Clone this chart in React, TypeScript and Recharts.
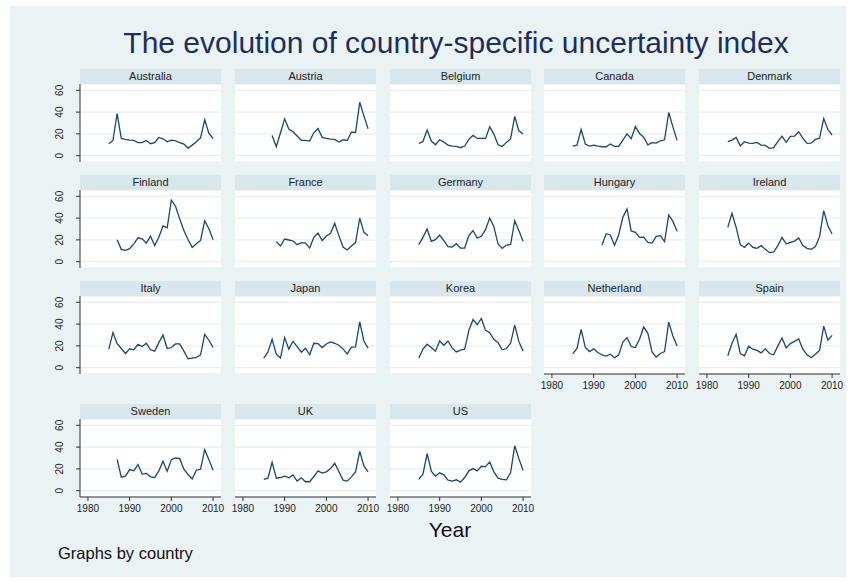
import React from 'react';
import { LineChart, Line, XAxis, YAxis, CartesianGrid } from 'recharts';

// uncertainty index by country, one value per year from the start year on
const countries = [
  'Australia', 'Austria', 'Belgium', 'Canada', 'Denmark',
  'Finland', 'France', 'Germany', 'Hungary', 'Ireland',
  'Italy', 'Japan', 'Korea', 'Netherland', 'Spain',
  'Sweden', 'UK', 'US',
];
const startYears = [
  1985, 1987, 1985, 1985, 1985,
  1987, 1988, 1985, 1992, 1985,
  1985, 1985, 1985, 1985, 1985,
  1987, 1985, 1985,
];

const australia = [11, 14, 38.7, 15.8, 15, 14.3, 14, 12, 12, 14, 11, 12, 16.7, 15.5, 12.8, 14.3, 13.7, 12, 10.7, 7, 9.7, 12.8, 16.4, 33, 20.4, 15.8];
const austria = [18.6, 8.2, 21, 33.8, 24.4, 22, 18, 14, 14, 13.4, 21, 25, 16.8, 15.8, 15.2, 15, 12.5, 14.6, 14, 21.6, 21.3, 49, 36.5, 24.7];
const belgium = [11.3, 13, 23.5, 13.4, 10, 14.6, 12.5, 9.7, 8.8, 8.5, 7.3, 8.8, 15, 18.6, 15.8, 15.8, 15.8, 26.5, 19.8, 10, 8.5, 12.2, 15.5, 36, 22.8, 19.8];
const canada = [8.8, 9.7, 24, 10.7, 8.8, 9.7, 8.8, 8.2, 8.2, 10.7, 8.5, 8.5, 14.3, 20, 15.5, 26.8, 20.4, 17, 10, 12, 11.6, 13.7, 14.6, 39.6, 26.5, 14];
const denmark = [13, 14.3, 16.7, 9, 12.8, 11.6, 11.3, 12.2, 9.7, 9.4, 6.7, 7.3, 12.8, 18, 12.2, 17.7, 18, 22, 16, 11.3, 11.6, 15, 16, 34, 24, 19];
const finland = [20.1, 11.3, 10.4, 11.9, 16.4, 21.9, 21, 17, 23.5, 14.9, 22.5, 32.9, 31.1, 56.4, 50.9, 39.3, 28.6, 20.4, 13.1, 16.4, 19.5, 37.5, 30.2, 20.1];
const france = [18.4, 14.4, 20.8, 19.9, 19, 15.6, 17.5, 17.1, 12.5, 22.3, 26.3, 19.3, 23.6, 26, 35.2, 23.9, 13.5, 10.7, 14.4, 17.5, 40.1, 26.9, 23.9];
const germany = [15.6, 22.3, 30, 18.7, 20.2, 24.5, 19.3, 13.8, 13.5, 16.5, 12.5, 12.5, 23.9, 28.5, 21.7, 23.3, 29.4, 40.1, 32.1, 16.2, 12.2, 15.3, 15.6, 37.6, 28.5, 18.7];
const hungary = [15.3, 25.7, 24.5, 15, 24.5, 40.7, 48.4, 28.2, 26.9, 22.3, 22.6, 17.8, 17.1, 23.3, 23.9, 18.4, 42.9, 37, 27.9];
const ireland = [31.5, 44.4, 31.5, 15.6, 13.2, 17.1, 13.2, 12.2, 14.7, 11.3, 8.3, 8.9, 14.7, 22.3, 16.2, 17.8, 18.9, 21.7, 14.7, 12.2, 11.3, 13.8, 23, 46.8, 33, 25.4];
const italy = [17, 32.1, 22.1, 17.6, 13, 17.3, 16.4, 21.5, 19.4, 22.4, 16.4, 15.2, 23, 30, 17.6, 18.5, 21.8, 21.8, 15.2, 8.2, 8.8, 9.4, 11.8, 30.6, 25.2, 18.5];
const japan = [8.8, 14.5, 26.1, 12.4, 8.8, 27.6, 17, 24.2, 19.4, 14.2, 17.9, 11.8, 22.4, 22.1, 18.5, 21.8, 23.6, 22.4, 20.6, 17.3, 12.7, 18.8, 19.1, 42.1, 24.5, 17.9];
const korea = [8.8, 17, 21.5, 18.5, 15.2, 24.5, 20.6, 24.5, 18.2, 14.5, 16.1, 17, 34.2, 44.2, 39.4, 45.2, 34.2, 32.1, 26.1, 23, 16.4, 17.6, 22.4, 39.1, 23.9, 15.2];
const netherland = [12.7, 17.6, 35.2, 18.5, 14.8, 17.3, 13.9, 11.8, 10.6, 12.4, 9.1, 11.8, 23.6, 27.6, 19.4, 18.5, 26.1, 37.3, 31.5, 14.5, 9.7, 13, 14.8, 41.8, 29.1, 20];
const spain = [10.9, 22.1, 30.6, 13, 10.9, 19.7, 17, 15.8, 13.6, 17.3, 13, 11.8, 20, 27.3, 18.2, 22.1, 24.2, 26.4, 17, 11.8, 9.1, 12.4, 15.8, 38.2, 25.2, 29.7];
const sweden = [28.8, 12.4, 13.3, 19.4, 18.2, 24, 15.2, 15.8, 12.7, 12.1, 18.2, 27, 17.9, 28.5, 30, 29.4, 19.7, 14.8, 10.9, 18.8, 19.7, 37.6, 28.5, 18.8];
const uk = [10.3, 11.5, 26.1, 11.5, 12.1, 13.3, 11.8, 14.5, 8.8, 11.8, 8.2, 8.2, 13, 18.2, 16.1, 17.3, 20.3, 25.2, 17.6, 9.7, 8.8, 12.7, 17.3, 36.1, 22.7, 17.3];
const us = [10.3, 15.2, 33.9, 17.9, 13.3, 16.4, 14.5, 9.7, 8.8, 10, 7.9, 12.1, 18.2, 20.3, 18.2, 22.4, 22.1, 26.4, 17.3, 11.5, 10.3, 10, 16.4, 41.2, 29.4, 18.8];

const series = [
  australia, austria, belgium, canada, denmark,
  finland, france, germany, hungary, ireland,
  italy, japan, korea, netherland, spain,
  sweden, uk, us,
];

const xTicks = [1980, 1990, 2000, 2010];
const yTicks = [0, 20, 40, 60];

const font = '"Liberation Sans", Arial, Helvetica, sans-serif';
const bg = '#eaf2f3';
const strip = '#d9e6eb';
const lineColor = '#1a476f';

const colX = [80, 235, 390, 544, 699];
const rowY = [69, 175, 281, 404];
const plotW = 141;
const plotH = 78;
const stripH = 15;
const yAxisW = 30;
const xAxisH = 25;
const pad = 14; // room for the end year labels

function YTick({ x, y, payload }: any) {
  return (
    <text x={x} y={y} transform={`rotate(-90 ${x} ${y})`} textAnchor="middle"
      fontSize={10} fontFamily={font} fill="#222">
      {payload.value}
    </text>
  );
}

function Panel({ idx }: { idx: number }) {
  const col = idx % 5;
  const row = Math.floor(idx / 5);
  const showY = col === 0;
  // bottom panel of each column gets the year axis
  const showX = idx + 5 >= countries.length;
  const data = series[idx].map((v, i) => ({ year: startYears[idx] + i, v }));
  const left = colX[col];
  const top = rowY[row];
  const side = showX ? pad : 0;
  const yw = showY ? yAxisW : 0;
  return (
    <>
      <div style={{
        position: 'absolute', left, top, width: plotW, height: stripH, background: strip,
        fontFamily: font, fontSize: 11, lineHeight: `${stripH}px`, textAlign: 'center', color: '#222',
      }}>{countries[idx]}</div>
      <div style={{ position: 'absolute', left, top: top + stripH, width: plotW, height: plotH, background: '#fff' }} />
      <div style={{ position: 'absolute', left: left - yw - side, top: top + stripH }}>
        <LineChart width={plotW + yw + 2 * side} height={plotH + (showX ? xAxisH : 0)} data={data}
          margin={{ top: 0, right: side, bottom: 0, left: side }}>
          <CartesianGrid vertical={false} stroke="#e3ebee" strokeWidth={1} />
          <XAxis dataKey="year" type="number" domain={[1978.1, 2011.9]} ticks={xTicks} allowDataOverflow
            hide={!showX} height={xAxisH} tickSize={4} tickMargin={4} interval={0}
            axisLine={{ stroke: '#333' }} tickLine={{ stroke: '#333' }}
            tick={{ fontSize: 10, fontFamily: font, fill: '#222' }} />
          <YAxis type="number" domain={[-5.8, 65.8]} ticks={yTicks} allowDataOverflow
            hide={!showY} width={yAxisW} tickSize={4} tickMargin={13} interval={0}
            axisLine={{ stroke: '#333' }} tickLine={{ stroke: '#333' }} tick={<YTick />} />
          <Line type="linear" dataKey="v" stroke={lineColor} strokeWidth={1.3} dot={false}
            isAnimationActive={false} />
        </LineChart>
      </div>
    </>
  );
}

export default function App() {
  return (
    <div style={{ position: 'absolute', left: 0, top: 0, width: 857, height: 582, background: '#fff', overflow: 'hidden' }}>
      <div style={{ position: 'absolute', left: 10, top: 6, width: 836, height: 571, background: bg }} />
      <div style={{
        position: 'absolute', left: 56, top: 28, width: 800, textAlign: 'center',
        fontFamily: font, fontSize: 30, lineHeight: '30px', color: '#1c2f5e',
      }}>The evolution of country-specific uncertainty index</div>
      {countries.map((_, i) => <Panel key={i} idx={i} />)}
      <div style={{
        position: 'absolute', left: 350, top: 518, width: 200, textAlign: 'center',
        fontFamily: font, fontSize: 21, lineHeight: '24px', color: '#111',
      }}>Year</div>
      <div style={{
        position: 'absolute', left: 58, top: 543, fontFamily: font, fontSize: 16.5,
        lineHeight: '20px', color: '#111',
      }}>Graphs by country</div>
    </div>
  );
}
